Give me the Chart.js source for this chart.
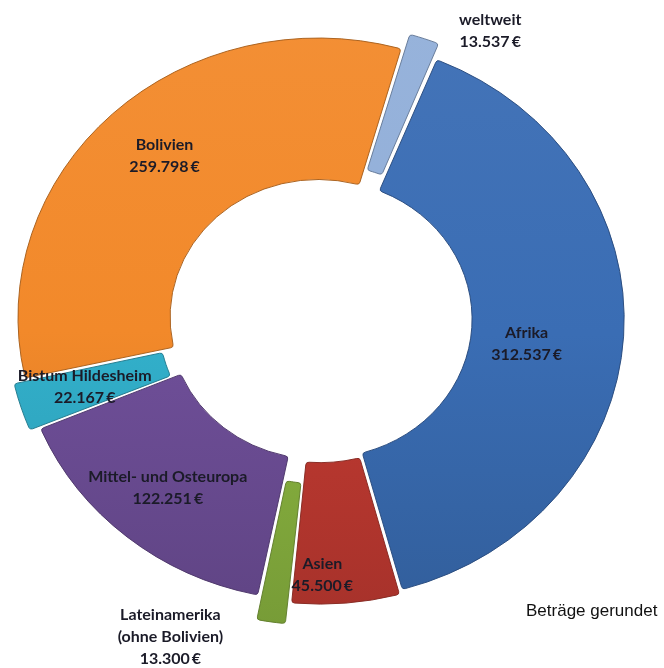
<!DOCTYPE html>
<html>
<head>
<meta charset="utf-8">
<script src="https://cdn.jsdelivr.net/npm/chart.js@4"></script>
<style>
  body { margin: 0; background: #fff; }
  #wrap { position: relative; width: 664px; height: 668px; }
  #note { position: absolute; left: 526px; top: 601px; font: 17px "Liberation Sans", Arial, sans-serif; color: #111; }
</style>
</head>
<body>
<div id="wrap">
  <canvas id="donut"></canvas>
  <div id="note">Beträge gerundet</div>
</div>
<script>
// Data (clockwise from top)
const regions = ['weltweit', 'Afrika', 'Asien', 'Lateinamerika (ohne Bolivien)', 'Mittel- und Osteuropa', 'Bistum Hildesheim', 'Bolivien'];
const labelLines = [['weltweit'], ['Afrika'], ['Asien'], ['Lateinamerika', '(ohne Bolivien)'], ['Mittel- und Osteuropa'], ['Bistum Hildesheim'], ['Bolivien']];
const amounts = [13537, 312537, 45500, 13300, 122251, 22167, 259798];
const sliceColors = ['#92afd9', '#3a6db4', '#c13a31', '#8ab440', '#6f4f99', '#32b0cb', '#f2892a'];

// how far each slice is pulled out
const explode = [40, 12, 16, 62, 12, 30, 10];

// flatten the ring a bit, like the tilted original
const tilt = 0.93;

// label placement: distance from centre + small nudge
const labelPlace = [
    { r: 340, dx: 59, dy: 11 },
    { r: 215, dx: -8, dy: 13 },
    { r: 240, dx: -18, dy: 33 },
    { r: 320, dx: -102, dy: 24 },
    { r: 230, dx: -6, dy: 4 },
    { r: 250, dx: 3, dy: -2 },
    { r: 240, dx: 9, dy: -1 }
];

// Helper: German number format
function formatEuro(n) {
    return String(n).replace(/\B(?=(\d{3})+(?!\d))/g, '.') + '\u2009€';
}

// Helper: lighten / darken a hex colour
function shade(hex, f) {
    const n = parseInt(hex.slice(1), 16);
    let r = (n >> 16) & 255, g = (n >> 8) & 255, b = n & 255;
    if (f >= 0) {
        r = r + (255 - r) * f; g = g + (255 - g) * f; b = b + (255 - b) * f;
    } else {
        r = r * (1 + f); g = g * (1 + f); b = b * (1 + f);
    }
    return `rgb(${Math.round(r)}, ${Math.round(g)}, ${Math.round(b)})`;
}

// vertical gradient per slice
function sliceFill(context) {
    const chart = context.chart;
    const color = sliceColors[context.dataIndex];
    if (!chart.chartArea) return color;
    const g = chart.ctx.createLinearGradient(0, 0, 0, chart.height);
    g.addColorStop(0, shade(color, 0.05));
    g.addColorStop(0.5, color);
    g.addColorStop(1, shade(color, -0.15));
    return g;
}

// Plugin squashing the ring vertically
const tiltRing = {
    id: 'tiltRing',
    beforeDatasetsDraw(chart) {
        const arc = chart.getDatasetMeta(0).data[0];
        const ctx = chart.ctx;
        ctx.save();
        ctx.translate(arc.x, arc.y);
        ctx.scale(1, tilt);
        ctx.translate(-arc.x, -arc.y);
    },
    afterDatasetsDraw(chart) {
        chart.ctx.restore();
    }
};

// Plugin drawing the slice labels
const sliceLabels = {
    id: 'sliceLabels',
    afterDatasetsDraw(chart) {
        const ctx = chart.ctx;
        const arcs = chart.getDatasetMeta(0).data;
        ctx.save();
        ctx.font = 'bold 16px Lato, "Open Sans", sans-serif';
        ctx.fillStyle = '#1b1b28';
        ctx.textAlign = 'center';
        ctx.textBaseline = 'middle';
        arcs.forEach(function(arc, i) {
            const mid = (arc.startAngle + arc.endAngle) / 2;
            const p = labelPlace[i];
            const x = arc.x + Math.cos(mid) * p.r + p.dx;
            const y = arc.y + Math.sin(mid) * p.r * tilt + p.dy;
            const lines = labelLines[i].concat([formatEuro(amounts[i])]);
            const lh = 22;
            const top = y - (lines.length - 1) * lh / 2;
            lines.forEach(function(line, k) {
                ctx.fillText(line, x, top + k * lh);
            });
        });
        ctx.restore();
    }
};

new Chart(document.getElementById('donut'), {
    type: 'doughnut',
    data: {
        labels: regions,
        datasets: [{
            data: amounts,
            backgroundColor: sliceFill,
            borderColor: sliceColors.map(c => shade(c, -0.3)),
            borderWidth: 1,
            borderRadius: 3,
            offset: explode,
            clip: false
        }]
    },
    options: {
        responsive: true,
        maintainAspectRatio: false,
        animation: false,
        rotation: 16,
        radius: 300,
        cutout: '49.3%',
        layout: {
            padding: { left: 0, right: 24, top: 0, bottom: 30 }
        },
        plugins: {
            legend: { display: false },
            tooltip: { enabled: false }
        }
    },
    plugins: [tiltRing, sliceLabels]
});
</script>
</body>
</html>
